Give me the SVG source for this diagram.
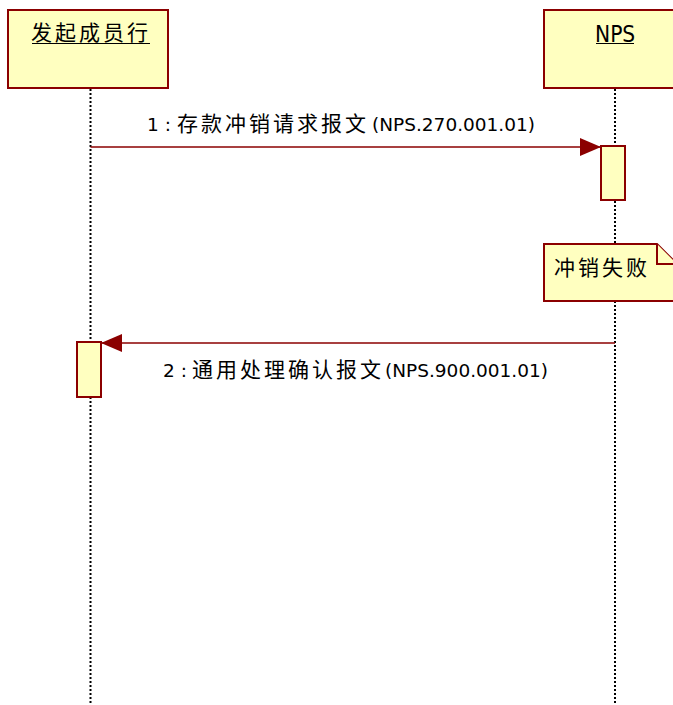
<svg xmlns="http://www.w3.org/2000/svg" width="673" height="705" viewBox="0 0 673 705">
<defs>
<style>
.box{fill:#FFFFC0;stroke:#8B0000;stroke-width:2}
.life{stroke:#000;stroke-width:2;stroke-dasharray:2 2;fill:none}
.msg{stroke:#8B0000;stroke-width:1.5;fill:none}
.lat{font-family:"DejaVu Sans","Noto Sans CJK SC",sans-serif;font-size:18.5px;fill:#000}
.cjk{font-family:"Noto Sans CJK SC",sans-serif;font-size:21px;letter-spacing:3px;fill:#000}
.ttl{font-family:"DejaVu Sans Condensed","DejaVu Sans",sans-serif;font-size:22.5px;fill:#000}
.ul{stroke:#000;stroke-width:1.2}
</style>
<marker id="arr" markerUnits="userSpaceOnUse" markerWidth="22" markerHeight="18" refX="21" refY="9" orient="auto">
<path d="M0,0 L21,9 L0,18 Z" fill="#8B0000"/>
</marker>
</defs>
<rect width="673" height="705" fill="#fff"/>
<g id="connectors">
<line class="life" x1="90.5" y1="89" x2="90.5" y2="342"/>
<line class="life" x1="90.5" y1="397" x2="90.5" y2="705"/>
<line class="life" x1="615" y1="89" x2="615" y2="146"/>
<line class="life" x1="615" y1="201" x2="615" y2="705"/>
<line class="msg" x1="90.5" y1="147" x2="601" y2="147" marker-end="url(#arr)"/>
<line class="msg" x1="615" y1="343" x2="101" y2="343" marker-end="url(#arr)"/>
<text id="msg1-label" class="lat" y="131"><tspan x="147">1 : </tspan><tspan class="cjk" x="177">存款冲销请求报文</tspan><tspan x="372">(NPS.270.001.01)</tspan></text>
<text id="msg2-label" class="lat" y="377"><tspan x="163">2 : </tspan><tspan class="cjk" x="192">通用处理确认报文</tspan><tspan x="385">(NPS.900.001.01)</tspan></text>
</g>
<g id="participant-initiator">
<rect class="box" x="8" y="10" width="160" height="78"/>
<text class="cjk" x="31" y="40">发起成员行</text>
<line class="ul" x1="32" y1="43.5" x2="150" y2="43.5"/>
</g>
<g id="participant-nps">
<rect class="box" x="544" y="10" width="142" height="78"/>
<text class="ttl" x="595" y="41.5">NPS</text>
<line class="ul" x1="596" y1="43.5" x2="634" y2="43.5"/>
</g>
<g id="activation-nps">
<rect class="box" x="601" y="146" width="24" height="54"/>
</g>
<g id="activation-initiator">
<rect class="box" x="77" y="342" width="24" height="55"/>
</g>
<g id="note-failure">
<path class="box" d="M544,244 L657,244 L677,264 L677,301 L544,301 Z"/>
<path class="box" d="M657,244 L657,264 L677,264" fill="none"/>
<text class="cjk" x="554" y="275">冲销失败</text>
</g>
</svg>
